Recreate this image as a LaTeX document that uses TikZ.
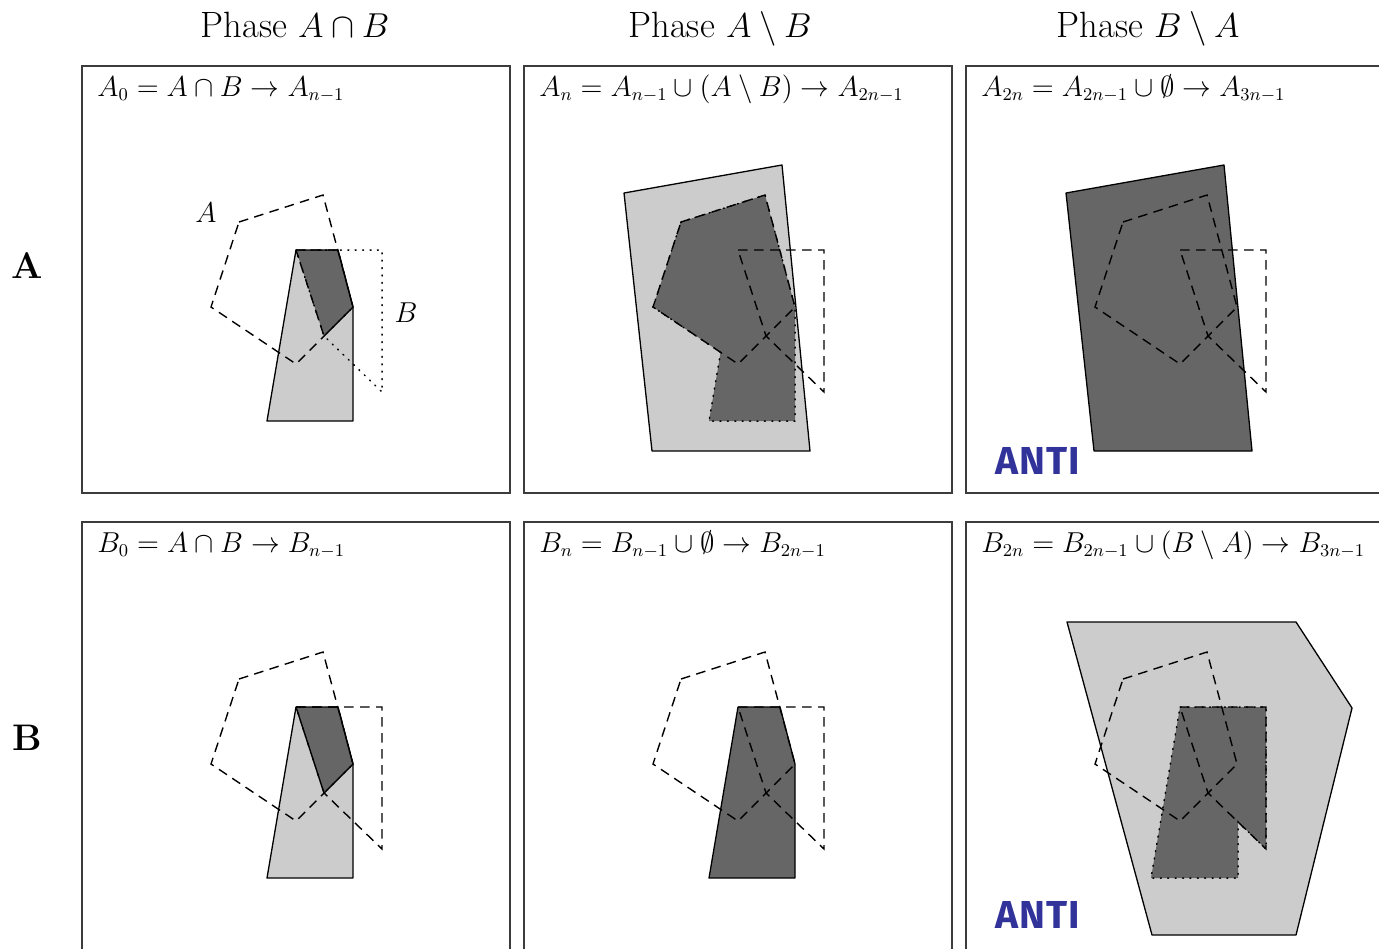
\documentclass[tikz,border=0pt]{standalone}
\usepackage{fontspec}
\newfontfamily\antifont{Fira Sans}
\definecolor{lgray}{RGB}{204,204,204}
\definecolor{dgray}{RGB}{102,102,102}
\definecolor{antiblue}{RGB}{50,50,155}
\definecolor{framecol}{RGB}{60,60,60}
\tikzset{
  frame/.style={draw=framecol, line width=0.75pt},
  outl/.style={draw=black, line width=0.65pt, line join=round},
  dsh/.style={draw=black, line width=0.7pt, dash pattern=on 4.8pt off 3.2pt},
  dotl/.style={draw=black, line width=0.75pt, dash pattern=on 0.5pt off 3.2pt, line cap=round},
  head/.style={font=\fontsize{18.3}{21}\selectfont},
  formula/.style={font=\fontsize{13.5}{16}\selectfont, anchor=base west, inner sep=0pt},
  rowlab/.style={font=\fontsize{18.5}{20}\selectfont\bfseries},
  shlab/.style={font=\fontsize{13.5}{16}\selectfont},
  anti/.style={font=\antifont\bfseries\fontsize{19.5}{22}\selectfont, text=antiblue, anchor=base west, inner sep=0pt}
}
\newcommand\polyA[1]{\path[#1] (239,222) -- (323,195) -- (353,307) -- (296,364) -- (211,307) -- cycle;}
\newcommand\polyB[1]{\path[#1] (296,250) -- (382,250) -- (382,392) -- (324,336) -- cycle;}
\newcommand\polyS[1]{\path[#1] (296,250) -- (338,250) -- (353,307) -- (353,421) -- (267,421) -- cycle;}
\newcommand\polyI[1]{\path[#1] (296,250) -- (338,250) -- (353,307) -- (324,336) -- cycle;}
\newcommand\polyQ[1]{\path[#1] (182,193) -- (340,165) -- (368,451) -- (210,451) -- cycle;}
\newcommand\polyP[1]{\path[#1] (183,165) -- (412,165) -- (468,251) -- (412,478) -- (268,478) -- cycle;}
\newcommand\polyAS[1]{\path[#1] (239,222) -- (323,195) -- (353,307) -- (353,421) -- (267,421) -- (278.6,352.4) -- (211,307) -- cycle;}
\newcommand\polyBS[1]{\path[#1] (296,250) -- (382,250) -- (382,392) -- (354,365) -- (354,421) -- (267,421) -- cycle;}
\begin{document}
\begin{tikzpicture}[x=0.5pt,y=-0.5pt]
\useasboundingbox (0,0) rectangle (1379,948);
\begin{scope}
\clip (0,0) rectangle (1379,948);
% panel (1,1)
\polyS{fill=lgray}
\polyI{fill=dgray}
\polyS{outl}
\polyI{dsh}
\polyA{dsh}
\polyB{dotl}
% panel (1,2)
\begin{scope}[shift={(442,0)}]
\polyQ{fill=lgray, outl}
\polyAS{fill=dgray}
\polyAS{dotl}
\polyA{dsh}
\polyB{dsh}
\end{scope}
% panel (1,3)
\begin{scope}[shift={(884,0)}]
\polyQ{fill=dgray, outl}
\polyA{dsh}
\polyB{dsh}
\end{scope}
% panel (2,1)
\begin{scope}[shift={(0,457)}]
\polyS{fill=lgray}
\polyI{fill=dgray}
\polyS{outl}
\polyI{dsh}
\polyA{dsh}
\polyB{dsh}
\end{scope}
% panel (2,2)
\begin{scope}[shift={(442,457)}]
\polyS{fill=dgray, outl}
\polyA{dsh}
\polyB{dsh}
\end{scope}
% panel (2,3)
\begin{scope}[shift={(884,457)}]
\polyP{fill=lgray, outl}
\polyBS{fill=dgray}
\polyBS{dotl}
\polyA{dsh}
\polyB{dsh}
\end{scope}
% frames
\draw[frame] (82,66) rectangle (510,493);
\draw[frame] (524,66) rectangle (952,493);
\draw[frame] (966,66) rectangle (1394,493);
\draw[frame] (82,522) rectangle (510,950);
\draw[frame] (524,522) rectangle (952,950);
\draw[frame] (966,522) rectangle (1394,950);
\end{scope}
% headers
\node[head, anchor=base] (h1) at (295,37) {Phase $A\cap B$};
\node[head, anchor=base] (h2) at (720,37) {Phase $A\setminus B$};
\node[head, anchor=base] (h3) at (1148,37) {Phase $B\setminus A$};
% row labels
\node[rowlab] (rA) at (27,266) {A};
\node[rowlab] (rB) at (27,738) {B};
% formulas
\node[formula] (f11) at (97,96) {$A_0 = A\cap B \rightarrow A_{n-1}$};
\node[formula] (f12) at (539,96) {$A_n = A_{n-1}\cup (A\setminus B) \rightarrow A_{2n-1}$};
\node[formula] (f13) at (981,96) {$A_{2n} = A_{2n-1}\cup \emptyset \rightarrow A_{3n-1}$};
\node[formula] (f21) at (97,552) {$B_0 = A\cap B \rightarrow B_{n-1}$};
\node[formula] (f22) at (539,552) {$B_n = B_{n-1}\cup \emptyset \rightarrow B_{2n-1}$};
\node[formula] (f23) at (981,552) {$B_{2n} = B_{2n-1}\cup (B\setminus A) \rightarrow B_{3n-1}$};
% shape labels
\node[shlab] (la) at (206,213) {$A$};
\node[shlab] (lb) at (406,313) {$B$};
% ANTI
\node[anti] (anti1) at (995,474) {A\kern0.6pt N\kern0.6pt T\kern0.6pt I};
\node[anti] (anti2) at (995,928) {A\kern0.6pt N\kern0.6pt T\kern0.6pt I};
\end{tikzpicture}
\end{document}
